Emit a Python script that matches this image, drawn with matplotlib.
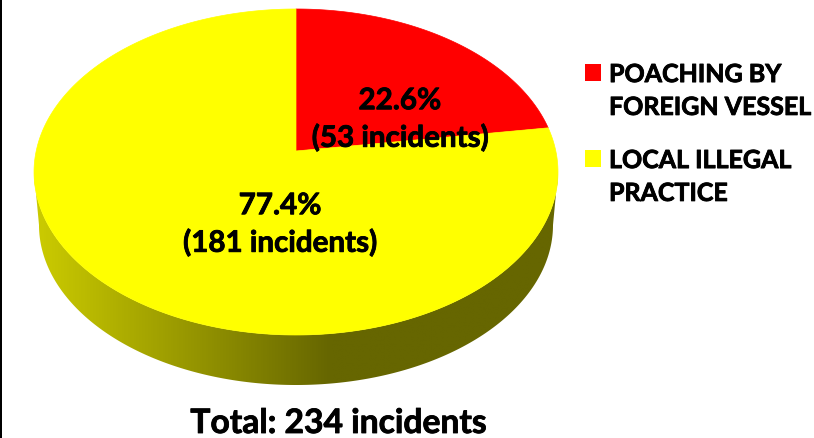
#---------------------------------------------------------------------------------------------------
# Imports
#---------------------------------------------------------------------------------------------------

import numpy as np
import matplotlib as mpl
mpl.use('Agg')
import matplotlib.pyplot as plt
import matplotlib.patheffects as pe
from matplotlib.patches import Polygon, Rectangle
from matplotlib.colors import LinearSegmentedColormap

mpl.rcParams['font.family'] = 'Lato'
mpl.rcParams['font.weight'] = 'bold'

#---------------------------------------------------------------------------------------------------
# Data
#---------------------------------------------------------------------------------------------------

incidents = [53, 181]
legend_labels = ['POACHING BY\nFOREIGN VESSEL', 'LOCAL ILLEGAL\nPRACTICE']
slice_colors = ['#ff0000', '#ffff00']
total_label = 'Total: 234 incidents'

#---------------------------------------------------------------------------------------------------
# Helpers
#---------------------------------------------------------------------------------------------------

# Perspective view of the unit circle, all in image pixels
# Params:
#           theta       : Angles on the pie in radians, measured clockwise from 12 o'clock
#
# Returns: x and y pixel arrays
#
def project(theta):
    px, py = np.sin(theta), np.cos(theta)
    denom = 1 + 0.1288 * py
    return 296 + 259.8 * px / denom, 151 - 160.3 * py / denom

def wedge_points(start, end):
    t = np.linspace(start, end, 300)
    x, y = project(t)
    return np.column_stack([np.r_[x, 296], np.r_[y, 151]])

# Calibri bold is heavier than Lato bold, so thicken the glyphs a little
heavy = [pe.withStroke(linewidth=0.6, foreground='black')]

#---------------------------------------------------------------------------------------------------
# Plot
#---------------------------------------------------------------------------------------------------

fig = plt.figure(figsize=(8.14, 4.38), dpi=100)
ax = fig.add_axes((0, 0, 1, 1))
ax.set_xlim(0, 814)
ax.set_ylim(438, 0)
ax.axis('off')

# Black rule on the left edge
ax.add_patch(Rectangle((0, 0), 2, 438, fc='black', ec='none'))

# Side of the pie, a gradient clipped to the band between top and bottom rims
t = np.linspace(0, np.pi, 400)
top_x, top_y = 296 + 262 * np.cos(t), 172 + 163 * np.sin(t)
bot_x, bot_y = 296 + 257 * np.cos(t), 225 + 160 * np.sin(t)
band = Polygon(np.column_stack([np.r_[top_x, bot_x[::-1]], np.r_[top_y, bot_y[::-1]]]),
               fc='none', ec='none')
ax.add_patch(band)
cmap = LinearSegmentedColormap.from_list('side', [(0, '#cccc00'), (0.565, '#666600'), (1, '#666600')])
img = ax.imshow(np.linspace(0, 1, 512)[None, :], extent=(34, 558, 400, 160), cmap=cmap,
                aspect='auto', interpolation='bilinear')
img.set_clip_path(band)
ax.set_xlim(0, 814)
ax.set_ylim(438, 0)

# Top face
total = sum(incidents)
start = 0
centers = [(400, 119), (280, 224)]
for n, c, (cx, cy) in zip(incidents, slice_colors, centers):
    end = start + 2 * np.pi * n / total
    ax.add_patch(Polygon(wedge_points(start, end), fc=c, ec=c, lw=0.5))
    ax.text(cx, cy, '{:.1f}%\n({} incidents)'.format(100 * n / total, n), ha='center',
            va='center', fontsize=21.3, linespacing=1.36, color='black', path_effects=heavy)
    start = end

# Legend
for label, c, y_box, y_text in zip(legend_labels, slice_colors, [64, 150], [91, 177]):
    ax.add_patch(Rectangle((585, y_box), 16, 17, fc=c, ec='none'))
    ax.text(609, y_text, label, ha='left', va='center', fontsize=18, linespacing=1.52,
            color='black', path_effects=heavy)

ax.text(338.5, 423, total_label, ha='center', va='center', fontsize=24.2, color='black',
        path_effects=heavy)

fig.savefig('out.png', dpi=100)
